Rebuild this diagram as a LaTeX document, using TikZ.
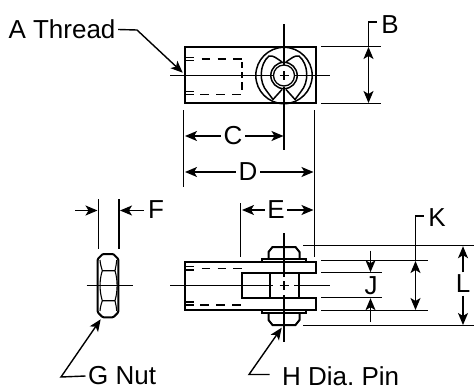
\documentclass[tikz,border=0pt]{standalone}
\usepackage{fontspec}
\setmainfont{Liberation Sans}
\usetikzlibrary{arrows.meta}
\tikzset{
 heavy/.style={line width=2pt,line join=miter},
 med/.style={line width=1.5pt},
 light/.style={line width=1.3pt},
 dimline/.style={line width=1.4pt,-{Stealth[length=12pt,width=10pt,inset=3pt]}},
 bidim/.style={line width=1.4pt,{Stealth[length=12pt,width=10pt,inset=3pt]}-{Stealth[length=12pt,width=10pt,inset=3pt]}},
 lab/.style={font=\fontsize{26}{30}\selectfont,inner sep=2.5pt},
 hid/.style={line width=1.4pt},
 wing/.pic={\draw[med,line join=round] (-2,-13.5) .. controls (-7,-17) and (-11,-20.5) .. (-15,-19.5)
   .. controls (-25,-11) and (-25,7) .. (-17,16) -- (-11,24) -- (-2,14);},
}
\begin{document}
\frenchspacing
\begin{tikzpicture}[x=1pt,y=-1pt]
\useasboundingbox (0,0) rectangle (474,388);
\fill[white] (0,0) rectangle (474,388);
% labels
\node[lab] (a) at (62,29.5) {A Thread};
\node[lab] (b) at (390,25) {B};
\node[lab] (c) at (233,136) {C};
\node[lab] (d) at (248,172) {D};
\node[lab] (e) at (276,210) {E};
\node[lab] (f) at (156,210) {F};
\node[lab,anchor=west,xshift=-2.5pt] (g) at (88,376) {G Nut};
\node[lab,anchor=west,xshift=-2.5pt] (h) at (282,376) {H Dia. Pin};
\node[lab] (j) at (371,286) {J};
\node[lab] (k) at (437,218) {K};
\node[lab] (l) at (463,284) {L};
% named points
\coordinate (ctr) at (284,75.5);
% top view
\draw[heavy] (185,47) rectangle (316,103);
\draw[light] (170,75.5) -- (273,75.5) (295,75.5) -- (330,75.5)
  (284,24) -- (284,65) (284,86.5) -- (284,150)
  (279.5,75.5) -- (288.5,75.5) (284,71) -- (284,80);
\draw[med] (ctr) circle (28.2);
\draw[med] (ctr) circle (13.2);
\draw[light] (ctr) circle (10.5);
\begin{scope}[shift={(ctr)}]
\pic {wing};
\pic[xscale=-1] {wing};
\end{scope}
% top hidden lines
\draw[hid] (186,57.3) -- (194,57.3) (186,60.7) -- (194,60.7)
  (201.7,59) -- (210,59) (217.7,59) -- (226,59) (233,59) -- (242,59)
  (186,91.5) -- (194,91.5) (186,94.5) -- (194,94.5)
  (200,94.5) -- (209,94.5) (216,94.5) -- (225,94.5) (232,94.5) -- (241,94.5)
  (242,62) -- (242,68) (242,72) -- (242,78) (242,82) -- (242,90);
% A leader
\coordinate (atip) at (182.7,72.7);
\draw[dimline] (a.east) -- (137,30) -- (atip);
% B
\draw[light] (321,46.5) -- (381,46.5) (321,103.5) -- (381,103.5);
\draw[bidim] (368.5,47) -- (368.5,103);
\draw[light] (368.5,47) -- (368.5,22) -- (377,22);
% C D
\draw[light] (183.7,110) -- (183.7,187) (314.5,110) -- (314.5,257);
\draw[dimline] (c.west) -- (185,136);
\draw[dimline] (c.east) -- (283.5,136);
\draw[dimline] (d.west) -- (185,172);
\draw[dimline] (d.east) -- (313.5,172);
% E
\draw[light] (240.5,203) -- (240.5,257);
\draw[dimline] (e.west) -- (242,210);
\draw[dimline] (e.east) -- (313.5,210);
% F
\draw[light] (98.5,199) -- (98.5,249);
\draw[line width=1.6pt] (119,199) -- (119,249);
\coordinate (fl) at (75,210.5);
\draw[dimline] (fl) -- (97.5,210.5);
\draw[dimline] (f.west) ++(-1.5,0.5) -- (120,210.5);
% nut
\draw[heavy,rounded corners=1pt] (102.7,254) -- (113.3,254) -- (118.3,259) -- (118.3,312.3) -- (113.3,317.3) -- (102.7,317.3) -- (97.7,312.3) -- (97.7,259) -- cycle;
\draw[line width=1.1pt] (102.3,270.7) -- (115,270.7) (102.3,300.7) -- (115,300.7)
  (100,260) .. controls (100.3,264) and (101.2,267) .. (102.3,270.7)
  .. controls (99.3,280) and (99.3,291) .. (102.3,300.7)
  .. controls (101.2,304) and (100.3,307) .. (100,311)
  (116.7,260) .. controls (116.4,264) and (115.8,267) .. (115,270.7)
  .. controls (117.8,280) and (117.8,291) .. (115,300.7)
  .. controls (115.8,304) and (116.4,307) .. (116.7,311);
\draw[light] (86.7,285.5) -- (132.7,285.5);
% G, H leaders
\draw[dimline] (g.west) -- (61,377) -- (100.7,319.3);
\draw[dimline] (h.west) ++(-10,-1.5) -- (249,374.5) -- (281.7,327.7);
% bottom view
\draw[heavy] (185,262.3) -- (316,262.3) -- (316,273) -- (242,273) -- (242,298) -- (316,298) -- (316,310) -- (185,310) -- cycle;
\draw[heavy] (270,273) -- (270,298) (299,273) -- (299,298);
\draw[light] (170,285.5) -- (273,285.5) (294,285.5) -- (330,285.5)
  (279.5,285.5) -- (288.5,285.5) (284,233) -- (284,277) (284,295) -- (284,342)
  (284,281) -- (284,290);
% pin heads
\draw[heavy] (262,262) -- (262,259) -- (305.7,259) -- (305.7,262);
\draw[heavy] (268.5,259) -- (268.5,252) -- (272.5,247) -- (295.5,247) -- (299.5,252) -- (299.5,259);
\draw[heavy] (262,310) -- (262,313) -- (305.7,313) -- (305.7,310);
\draw[heavy] (268.5,313) -- (268.5,320) -- (272.5,325) -- (295.5,325) -- (299.5,320) -- (299.5,313);
% bottom hidden lines
\draw[hid] (186,266.7) -- (194,266.7) (186,270) -- (194,270)
  (201.7,268.5) -- (210,268.5) (217.7,268.5) -- (226,268.5) (233,268.5) -- (242,268.5)
  (186,302) -- (194,302) (186,305) -- (194,305)
  (200,305) -- (208.5,305) (216,305) -- (225,305) (232,305) -- (241,305);
% right dimensions
\draw[light] (303,245.5) -- (474,245.5) (303,325.5) -- (474,325.5);
\draw[light] (321,260.5) -- (427.7,260.5) (321,310.5) -- (427.7,310.5)
  (321,272.5) -- (381.7,272.5) (321,297.5) -- (381.7,297.5);
\coordinate (j1) at (370.5,250.7);
\coordinate (j2) at (370.5,322);
\draw[dimline] (j1) -- (370.5,272.2);
\draw[dimline] (j2) -- (370.5,298.2);
\draw[bidim] (415.5,261) -- (415.5,310);
\draw[light] (415.5,261) -- (415.5,216) -- (424,216);
\draw[dimline] (l.north) -- (463,246.2);
\draw[dimline] (l.south) -- (463,325);
\end{tikzpicture}
\end{document}
